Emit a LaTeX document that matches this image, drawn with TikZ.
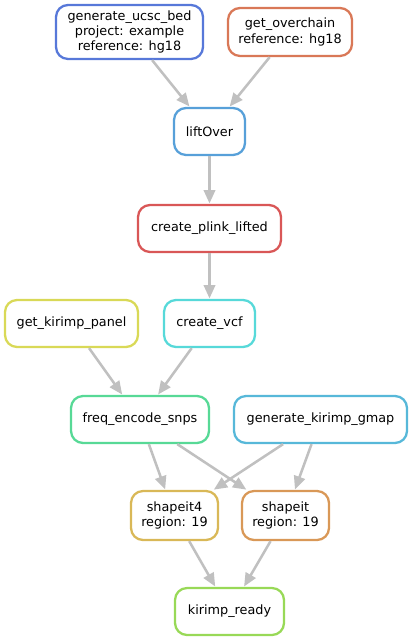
\documentclass[tikz,border=0pt]{standalone}
\usepackage{fontspec}
\setmainfont{DejaVu Sans}
\usetikzlibrary{arrows.meta}
\definecolor{cA}{RGB}{87,120,217}
\definecolor{cB}{RGB}{217,120,87}
\definecolor{cC}{RGB}{87,160,217}
\definecolor{cD}{RGB}{217,87,87}
\definecolor{cE}{RGB}{217,217,87}
\definecolor{cF}{RGB}{87,217,217}
\definecolor{cG}{RGB}{87,217,150}
\definecolor{cH}{RGB}{87,184,217}
\definecolor{cI}{RGB}{217,184,87}
\definecolor{cJ}{RGB}{217,152,87}
\definecolor{cK}{RGB}{152,217,87}
\definecolor{edgegray}{RGB}{192,192,192}
\tikzset{
  job/.style={rectangle, rounded corners=9pt, line width=1.7pt, fill=white,
    align=center, inner sep=0pt, font=\fontsize{9.6}{11.3}\selectfont,
    minimum height=35.25pt},
  conn/.style={draw=edgegray, line width=1.9pt,
    -{Triangle[length=10pt,width=8.5pt]}, shorten >=0.3pt}
}
\begin{document}
\begin{tikzpicture}[x=0.75pt,y=-0.75pt]
\useasboundingbox (0,0) rectangle (413,641);
\node[job, draw=cA, minimum width=110.25pt, minimum height=40.5pt] (gub) at (129.5,32) {generate\_ucsc\_bed\\project: example\\reference: hg18};
\node[job, draw=cB, minimum width=93pt, minimum height=36pt] (goc) at (290,32) {get\_overchain\\reference: hg18};
\node[job, draw=cC, minimum width=53.25pt] (lo) at (209.5,131.5) {liftOver};
\node[job, draw=cD, minimum width=107.25pt] (cpl) at (209.5,228.5) {create\_plink\_lifted};
\node[job, draw=cE, minimum width=99.75pt] (gkp) at (71.5,323.5) {get\_kirimp\_panel};
\node[job, draw=cF, minimum width=68.25pt] (cv) at (209.5,323.5) {create\_vcf};
\node[job, draw=cG, minimum width=103.5pt] (fes) at (140,419.5) {freq\_encode\_snps};
\node[job, draw=cH, minimum width=129.75pt] (gkg) at (320.5,419.5) {generate\_kirimp\_gmap};
\node[job, draw=cI, minimum width=65.25pt, minimum height=36.75pt] (s4) at (174.5,515.5) {shapeit4\\region: 19};
\node[job, draw=cJ, minimum width=65.25pt, minimum height=36.75pt] (s) at (285.5,515.5) {shapeit\\region: 19};
\node[job, draw=cK, minimum width=81.75pt] (kr) at (229.5,611.5) {kirimp\_ready};
\draw[conn] (gub) -- (lo);
\draw[conn] (goc) -- (lo);
\draw[conn] (lo) -- (cpl);
\draw[conn] (cpl) -- (cv);
\draw[conn] (gkp) -- (fes);
\draw[conn] (cv) -- (fes);
\draw[conn] (fes) -- (s4);
\draw[conn] (fes) -- (s);
\draw[conn] (gkg) -- (s4);
\draw[conn] (gkg) -- (s);
\draw[conn] (s4) -- (kr);
\draw[conn] (s) -- (kr);
\end{tikzpicture}
\end{document}
